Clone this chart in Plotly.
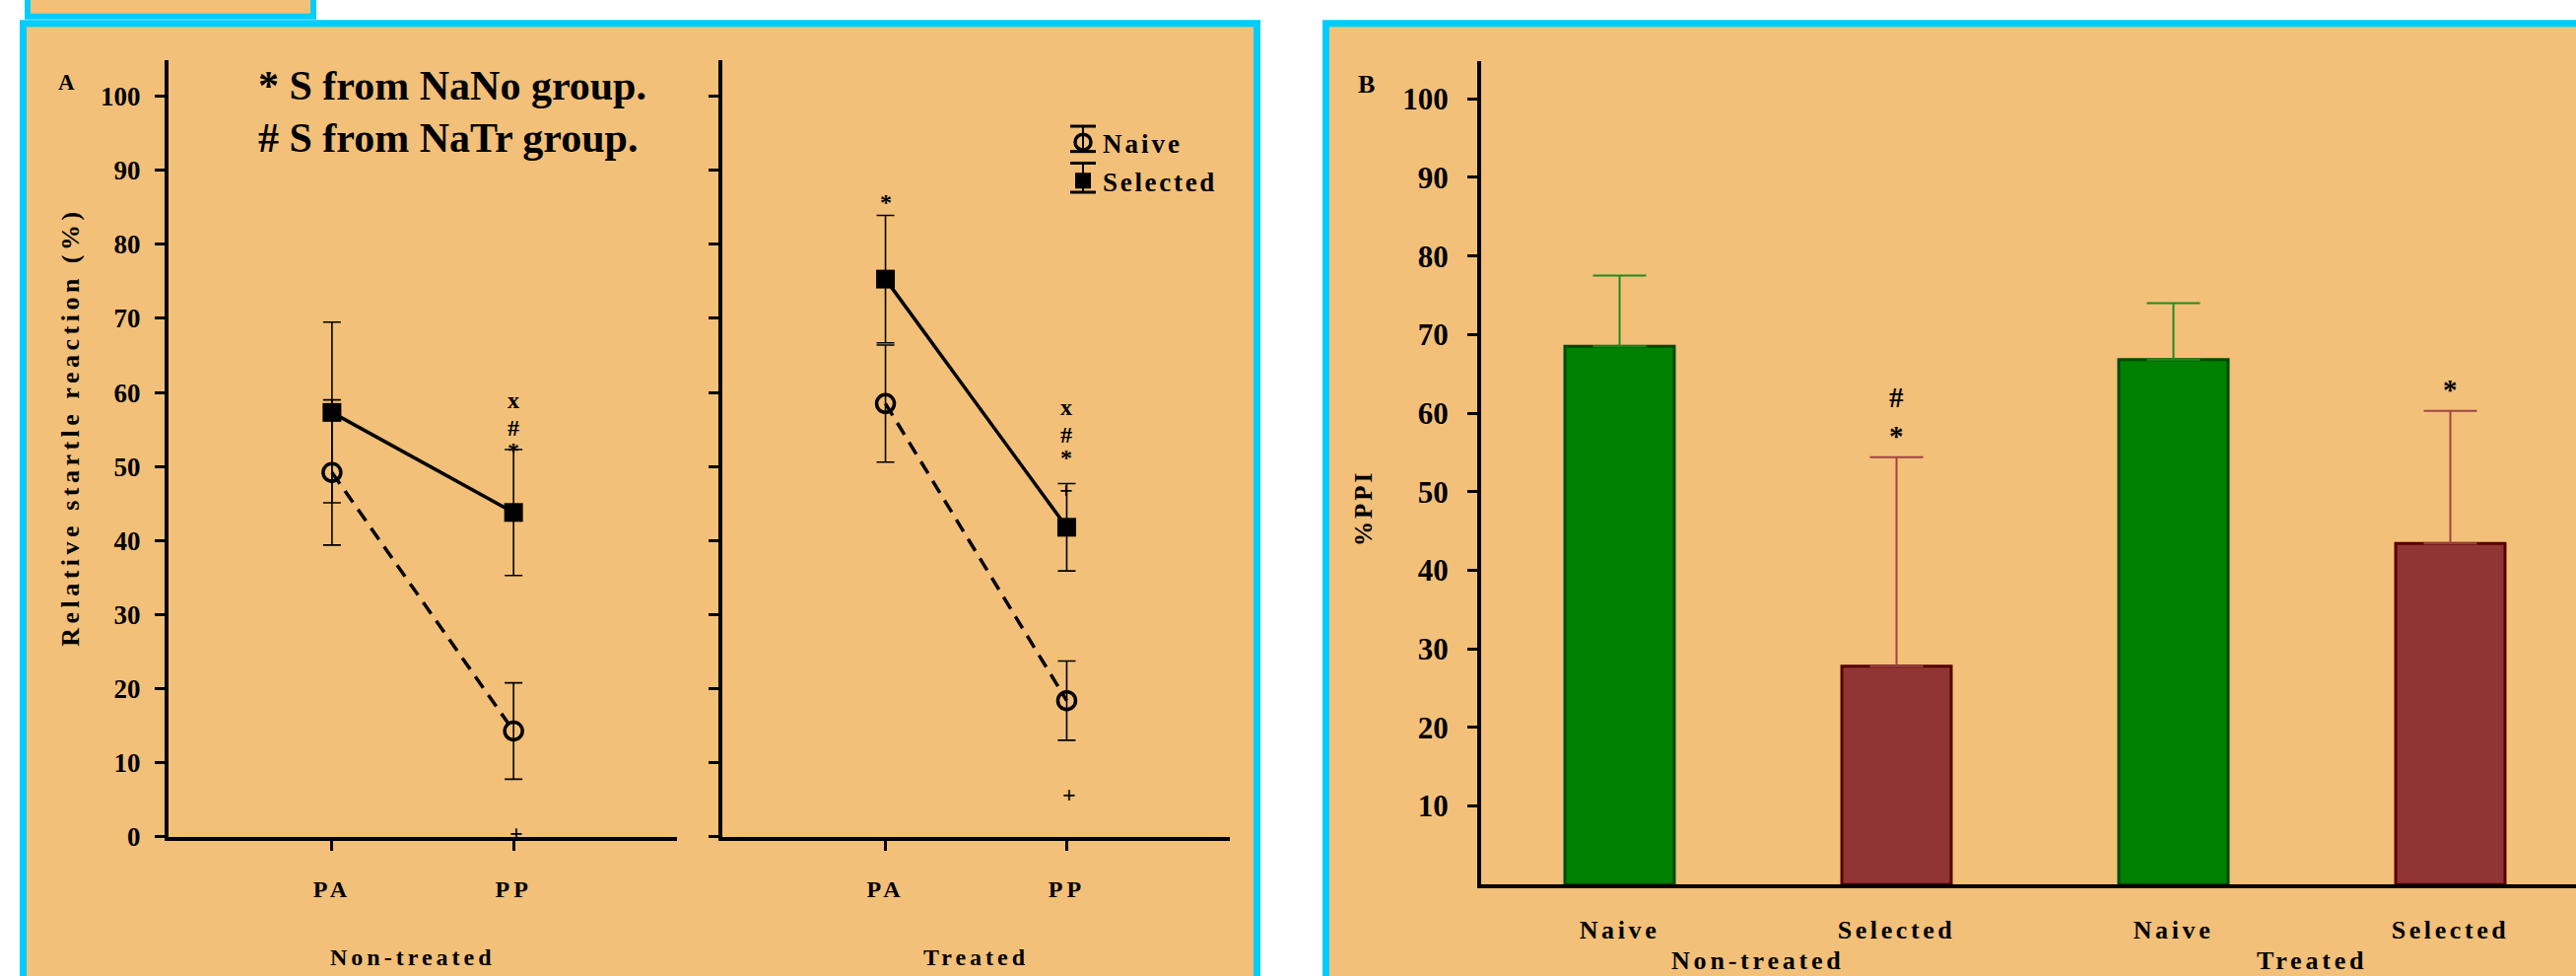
import plotly.graph_objects as go

# ---- Panel A: relative startle reaction, mean +/- SEM ----
conditions = ["PA", "PP"]
nontreated_naive_mean = [49.2, 14.3]
nontreated_naive_sem = [9.8, 6.5]
nontreated_selected_mean = [57.3, 43.8]
nontreated_selected_sem = [12.2, 8.5]
treated_naive_mean = [58.5, 18.4]
treated_naive_sem = [7.9, 5.35]
treated_selected_mean = [75.3, 41.8]
treated_selected_sem = [8.6, 5.9]
startle_ticks = list(range(0, 101, 10))

# significance symbols: stacked above the Selected bars, below the Naive bars
nontreated_selected_marks = [[], ["*", "#", "x"]]
nontreated_naive_marks = [[], ["+"]]
treated_selected_marks = [["*"], ["+", "*", "#", "x"]]
treated_naive_marks = [[], ["+"]]
key_lines = ["* S from NaNo group.", "# S from NaTr group."]

# ---- Panel B: % prepulse inhibition ----
ppi_groups = ["Non-treated", "Non-treated", "Treated", "Treated"]
ppi_strains = ["Naive", "Selected", "Naive", "Selected"]
ppi_mean = [68.5, 27.8, 66.8, 43.4]
ppi_sem = [9.0, 26.6, 7.2, 16.9]
ppi_marks = [[], ["*", "#"], [], ["*"]]
ppi_ticks = list(range(10, 101, 10))

W, H = 2614, 990
FONT = "Liberation Serif"
ORANGE = "#F2C079"
CYAN = "#00CCFF"
GREEN, GREEN_EDGE, GREEN_ERR = "#008000", "#004A00", "#1E8C1E"
RED, RED_EDGE, RED_ERR = "#913434", "#560000", "#A04444"

# pixel offset of the first symbol above an error cap, per condition
STACK_START = {"PA": 8, "PP": -6}
STACK_STEP = 28


def px(x):
    return x / W


def py(y):
    return 1 - y / H


def spaced(text, gap):
    return f'<span style="letter-spacing:{gap}px">{text}</span>'


def bold(size):
    return dict(family=FONT, size=size, color="black", weight="bold")


def glyph_nudge(m):
    # the asterisk sits high in the line box
    return 5 if m == "*" else 0


fig = go.Figure()
annotations = []


def startle_panel(xa, ya, naive_mean, naive_sem, sel_mean, sel_sem,
                  naive_marks, sel_marks):
    fig.add_trace(go.Scatter(
        x=conditions, y=naive_mean, name="Naive", xaxis=xa, yaxis=ya,
        mode="lines+markers", showlegend=False,
        line=dict(color="black", width=3.5, dash="14px,9px"),
        marker=dict(symbol="circle-open", size=18, color="black",
                    line=dict(width=3.5)),
        error_y=dict(type="data", array=naive_sem, color="black",
                     thickness=1.6, width=9)))
    fig.add_trace(go.Scatter(
        x=conditions, y=sel_mean, name="Selected", xaxis=xa, yaxis=ya,
        mode="lines+markers", showlegend=False,
        line=dict(color="black", width=3.5),
        marker=dict(symbol="square", size=19, color="black"),
        error_y=dict(type="data", array=sel_sem, color="black",
                     thickness=1.6, width=9)))
    for i, cond in enumerate(conditions):
        top = sel_mean[i] + sel_sem[i]
        for k, m in enumerate(sel_marks[i]):
            annotations.append(dict(
                x=cond, y=top, xref=xa, yref=ya, text=m, showarrow=False,
                yanchor="middle",
                yshift=STACK_START[cond] + STACK_STEP * k + glyph_nudge(m),
                font=bold(24)))
        low = naive_mean[i] - naive_sem[i]
        for m in naive_marks[i]:
            annotations.append(dict(
                x=cond, y=low, xref=xa, yref=ya, text=m, showarrow=False,
                yanchor="middle", yshift=-55, xshift=3, font=bold(24)))


startle_panel("x", "y", nontreated_naive_mean, nontreated_naive_sem,
              nontreated_selected_mean, nontreated_selected_sem,
              nontreated_naive_marks, nontreated_selected_marks)
startle_panel("x2", "y2", treated_naive_mean, treated_naive_sem,
              treated_selected_mean, treated_selected_sem,
              treated_naive_marks, treated_selected_marks)

# legend entries (marker only)
fig.add_trace(go.Scatter(
    x=[None], y=[None], xaxis="x2", yaxis="y2", mode="markers",
    name=spaced("Naive", 3), legendgroup="naive",
    marker=dict(symbol="circle-open", size=18, color="black",
                line=dict(width=3.5))))
fig.add_trace(go.Scatter(
    x=[None], y=[None], xaxis="x2", yaxis="y2", mode="markers",
    name=spaced("Selected", 2.7), legendgroup="selected",
    marker=dict(symbol="square", size=19, color="black")))

# ---- Panel B bars ----
for strain, fill, edge, err in (("Naive", GREEN, GREEN_EDGE, GREEN_ERR),
                                ("Selected", RED, RED_EDGE, RED_ERR)):
    idx = [i for i, s in enumerate(ppi_strains) if s == strain]
    fig.add_trace(go.Bar(
        x=idx, y=[ppi_mean[i] for i in idx], xaxis="x3", yaxis="y3",
        width=0.395, showlegend=False, name=strain,
        marker=dict(color=fill, line=dict(color=edge, width=3)),
        error_y=dict(type="data", symmetric=False,
                     array=[ppi_sem[i] for i in idx],
                     arrayminus=[0] * len(idx),
                     color=err, thickness=2, width=27)))

for i, marks in enumerate(ppi_marks):
    for k, m in enumerate(marks):
        annotations.append(dict(
            x=i, y=ppi_mean[i] + ppi_sem[i], xref="x3", yref="y3", text=m,
            showarrow=False, yanchor="middle", yshift=22 + 39 * k,
            font=bold(29)))

# group labels under panel B
for g in dict.fromkeys(ppi_groups):
    pos = [i for i, s in enumerate(ppi_groups) if s == g]
    annotations.append(dict(
        x=sum(pos) / len(pos), y=py(989), xref="x3", yref="paper",
        text=spaced(g, 3.8), showarrow=False, yanchor="middle",
        font=bold(26)))

# group labels under panel A
for xd, g in (("x domain", "Non-treated"), ("x2 domain", "Treated")):
    annotations.append(dict(
        x=0.48 if g == "Non-treated" else 0.5, y=py(986), xref=xd,
        yref="paper", text=spaced(g, 4), showarrow=False,
        yanchor="middle", font=bold(24)))

# axis titles, panel letters and key
annotations += [
    dict(x=px(55), y=py(440), xref="paper", yref="paper",
         text=spaced("Relative startle reaction (%)", 4.5), textangle=-90,
         showarrow=False, font=bold(26)),
    dict(x=px(1383), y=py(524), xref="paper", yref="paper",
         text=spaced("%PPI", 3), textangle=-90, showarrow=False,
         font=bold(25)),
    dict(x=px(57), y=py(70), xref="paper", yref="paper", text="A",
         showarrow=False, font=bold(23)),
    dict(x=px(1386), y=py(70), xref="paper", yref="paper", text="B",
         showarrow=False, font=bold(26)),
]
for k, line in enumerate(key_lines):
    annotations.append(dict(
        x=px(260), y=py(88 + 54 * k), xref="paper", yref="paper",
        xanchor="left", yanchor="middle", text=line, showarrow=False,
        font=bold(42)))

# panel frames
shapes = [
    dict(type="rect", xref="paper", yref="paper", x0=px(28), x1=px(318),
         y0=py(17), y1=py(-40), line=dict(color=CYAN, width=6),
         fillcolor=ORANGE, layer="below"),
    dict(type="rect", xref="paper", yref="paper", x0=px(23.5),
         x1=px(1275.5), y0=py(1020), y1=py(24),
         line=dict(color=CYAN, width=7), fillcolor=ORANGE, layer="below"),
    dict(type="rect", xref="paper", yref="paper", x0=px(1345.5),
         x1=px(2700), y0=py(1020), y1=py(24),
         line=dict(color=CYAN, width=7), fillcolor=ORANGE, layer="below"),
]
# error-bar glyphs drawn through the legend markers
legend_left = 1079
for cy, half in ((143, 13), (183, 15)):
    cx = legend_left + 20
    shapes.append(dict(type="line", xref="paper", yref="paper",
                       x0=px(cx), x1=px(cx), y0=py(cy - half),
                       y1=py(cy + half),
                       line=dict(color="black", width=2)))
    for yy in (cy - half, cy + half):
        shapes.append(dict(type="line", xref="paper", yref="paper",
                           x0=px(cx - 13), x1=px(cx + 13), y0=py(yy),
                           y1=py(yy), line=dict(color="black", width=3)))

axis_common = dict(showline=True, linecolor="black", linewidth=4,
                   showgrid=False, zeroline=False, fixedrange=True)
a_x = dict(axis_common, type="category", range=[-0.9, 1.9],
           tickmode="array", tickvals=conditions,
           ticktext=[spaced(c, 4) for c in conditions],
           ticks="outside", ticklen=10, tickwidth=3, tickcolor="black",
           tickfont=bold(24), ticklabelstandoff=18)
a_y = dict(axis_common, range=[0, 104.85], tickmode="array",
           tickvals=startle_ticks, ticks="outside", ticklen=10,
           tickwidth=3, tickcolor="black", tickfont=bold(27),
           ticklabelstandoff=9)

fig.update_layout(
    width=W, height=H, margin=dict(l=0, r=0, t=0, b=0),
    paper_bgcolor="white", plot_bgcolor="rgba(0,0,0,0)",
    barmode="overlay",
    xaxis=dict(a_x, domain=[px(171), px(687)], anchor="y"),
    yaxis=dict(a_y, domain=[py(862), py(62)], anchor="x"),
    xaxis2=dict(a_x, domain=[px(733), px(1248)], anchor="y2"),
    yaxis2=dict(a_y, domain=[py(862), py(62)], anchor="x2",
                showticklabels=False),
    xaxis3=dict(axis_common, domain=[px(1503), 1.0], anchor="y3",
                range=[-0.5, -0.5 + (W - 1503) / 281], tickmode="array",
                tickvals=list(range(len(ppi_strains))),
                ticktext=[spaced(s, 3.6) for s in ppi_strains],
                ticks="", tickfont=bold(26), ticklabelstandoff=20),
    yaxis3=dict(axis_common, domain=[py(911), py(63)], anchor="x3",
                range=[0, 104.8], tickmode="array", tickvals=ppi_ticks,
                ticks="outside", ticklen=10, tickwidth=3, tickcolor="black",
                tickfont=bold(31), ticklabelstandoff=13),
    legend=dict(x=px(legend_left), y=py(122), xanchor="left", yanchor="top",
                font=bold(27), bgcolor="rgba(0,0,0,0)", itemwidth=30,
                tracegroupgap=1),
    annotations=annotations,
    shapes=shapes,
)

fig.write_html("out.html")
